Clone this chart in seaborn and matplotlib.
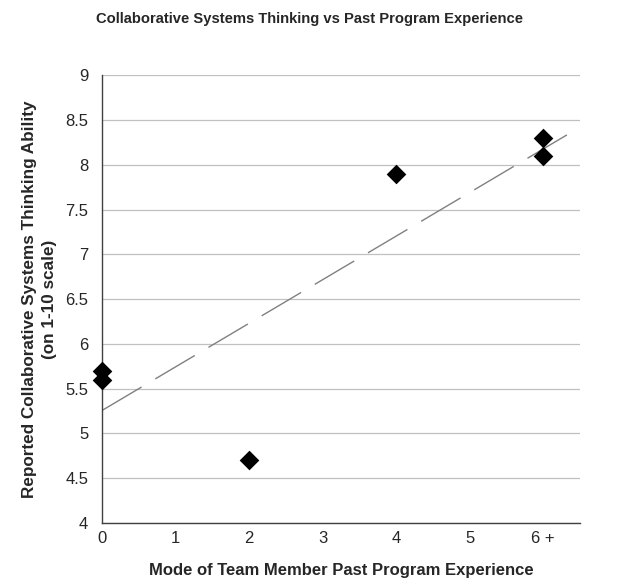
import numpy as np
import pandas as pd
import seaborn as sns
import matplotlib
matplotlib.use("Agg")
import matplotlib.pyplot as plt
from matplotlib.ticker import FuncFormatter

# Data
experience = [0, 0, 2, 4, 6, 6]
ability = [5.7, 5.6, 4.7, 7.9, 8.3, 8.1]
x_ticks = [0, 1, 2, 3, 4, 5, 6]
x_tick_labels = ["0", "1", "2", "3", "4", "5", "6 +"]
y_ticks = [4, 4.5, 5, 5.5, 6, 6.5, 7, 7.5, 8, 8.5, 9]

df = pd.DataFrame({"experience": experience, "ability": ability})

sns.set_style("white")
plt.rcParams["font.family"] = ["Liberation Sans", "DejaVu Sans"]

fig = plt.figure(figsize=(6.19, 5.79), dpi=100)
ax = fig.add_axes([0.165, 0.097, 0.772, 0.773])

ax.set_xlim(0, 6.5)
ax.set_ylim(4, 9)

for y in y_ticks:
    ax.axhline(y, color="#c0c0c0", lw=0.9, zorder=0)

sns.regplot(data=df, x="experience", y="ability", ax=ax, scatter=False,
            ci=None, truncate=False,
            line_kws=dict(color="#808080", lw=1.0, linestyle=(0, (33, 11.5)), zorder=2))

sns.scatterplot(data=df, x="experience", y="ability", ax=ax, marker="D",
                s=100, color="black", edgecolor="black", linewidth=0, zorder=3,
                clip_on=False)

ax.set_xlim(0, 6.5)
ax.set_ylim(4, 9)
ax.set_xticks(x_ticks)
ax.set_xticklabels(x_tick_labels)
ax.set_yticks(y_ticks)
ax.yaxis.set_major_formatter(FuncFormatter(lambda v, p: f"{v:g}"))

for s in ["top", "right"]:
    ax.spines[s].set_visible(False)
for s in ["left", "bottom"]:
    ax.spines[s].set_color("#404040")
    ax.spines[s].set_linewidth(1.0)

ax.tick_params(axis="both", which="major", length=4, width=0.8, color="#404040",
               labelsize=12, direction="out", pad=6)
ax.tick_params(axis="x", pad=2)

ax.set_xlabel("Mode of Team Member Past Program Experience", fontsize=12,
              fontweight="bold", labelpad=12)
ax.set_ylabel("Reported Collaborative Systems Thinking Ability\n(on 1-10 scale)",
              fontsize=12.3, fontweight="bold", labelpad=6, linespacing=1.45)
fig.suptitle("Collaborative Systems Thinking vs Past Program Experience",
             fontsize=10.6, fontweight="bold", x=0.5, y=0.98)

fig.savefig("out.png", dpi=100, facecolor="white")
